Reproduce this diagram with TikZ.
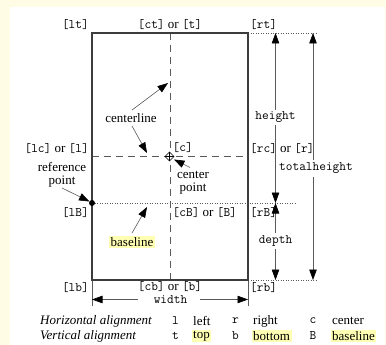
\documentclass[tikz,border=0pt]{standalone}
\usepackage{fontspec}
\setmainfont{Liberation Serif}
\usetikzlibrary{arrows.meta}
\definecolor{cream}{HTML}{FFFCE6}
\definecolor{hl}{HTML}{FFFFB3}
\definecolor{boxc}{HTML}{3C3C3C}
\definecolor{linec}{HTML}{5A5A5A}
\newcommand\mytt[1]{\texttt{#1}}
\tikzset{
  lbl/.style={inner sep=0pt, font=\fontsize{13}{14}\selectfont},
  mono/.style={inner sep=0pt, font=\fontsize{13}{14}\selectfont\ttfamily},
  hilite/.style={fill=hl, inner xsep=1.5pt, inner ysep=1pt},
  arr/.style={draw=linec, line width=0.6pt, -{Triangle[length=10.5pt,width=7.5pt,color=black]}},
  dashln/.style={draw=linec, line width=0.7pt, dash pattern=on 7pt off 5pt},
  dotln/.style={draw=linec, line width=0.6pt, dash pattern=on 1pt off 1.5pt},
  tick/.style={draw=linec, line width=0.6pt},
}
\begin{document}
\begin{tikzpicture}[x=1pt,y=-1pt]
\useasboundingbox (0,0) rectangle (386,345);
\fill[cream] (0,0) rectangle (386,345);
\fill[white] (10,7) rectangle (385,345);
% box and guide lines
\draw[dashln] (170,33) -- (170,280);
\draw[dashln] (92,156.5) -- (248,156.5);
\draw[dotln] (92,203) -- (296,203);
\draw[dotln] (248,33) -- (316,33);
\draw[dotln] (248,280) -- (316,280);
\draw[tick] (92,280) -- (92,306);
\draw[tick] (248,280) -- (248,306);
\draw[boxc, line width=1.3pt] (92,33) rectangle (248,280);
% reference point and center point
\fill[black] (92,203) circle (3pt);
\coordinate (cp) at (169.5,156.5);
\draw[black, line width=0.6pt, fill=white] ([shift={(0,-4.5)}]cp) -- ([shift={(4.5,0)}]cp) -- ([shift={(0,4.5)}]cp) -- ([shift={(-4.5,0)}]cp) -- cycle;
\draw[black, line width=0.6pt] ([shift={(-4.5,0)}]cp) -- ([shift={(4.5,0)}]cp) ([shift={(0,-4.5)}]cp) -- ([shift={(0,4.5)}]cp);
% position labels
\node[mono, anchor=east] (lt) at (89,25) {[lt]};
\node[lbl] (ct) at (170,25) {\mytt{[ct]} or \mytt{[t]}};
\node[mono, anchor=west] (rt) at (250,25) {[rt]};
\node[lbl, anchor=east] (lc) at (89,149) {\mytt{[lc]} or \mytt{[l]}};
\node[mono, anchor=west] (c) at (172.5,148) {[c]};
\node[lbl, anchor=west] (rc) at (250,149) {\mytt{[rc]} or \mytt{[r]}};
\node[mono, anchor=east] (lB) at (89,213) {[lB]};
\node[lbl, anchor=west] (cB) at (172.5,213) {\mytt{[cB]} or \mytt{[B]}};
\node[mono, anchor=west] (rB) at (250,213) {[rB]};
\node[mono, anchor=east] (lb) at (89,288) {[lb]};
\node[lbl] (cb) at (170,287) {\mytt{[cb]} or \mytt{[b]}};
\node[mono, anchor=west] (rb) at (250,288) {[rb]};
% annotations
\node[lbl] (centerline) at (131,118) {centerline};
\node[lbl, align=center] (refpt) at (62,175) {reference\\[-1pt]point};
\node[lbl, align=center] (cenpt) at (193,183) {center\\[-1pt]point};
\node[lbl, hilite] (baseline) at (132,242) {baseline};
\coordinate (cl1) at (132,110);
\coordinate (cl1t) at (168,83);
\coordinate (cl2) at (132,126);
\coordinate (cl2t) at (147,153);
\draw[arr] (cl1) -- (cl1t);
\draw[arr] (cl2) -- (cl2t);
\coordinate (cpt) at (190,167.5);
\draw[arr] (cpt) -- (174,159.5);
\coordinate (rpt) at (62,188);
\draw[arr] (rpt) -- (89.5,201.5);
\coordinate (blt) at (132,233);
\draw[arr] (blt) -- (147,207);
% dimension arrows
\node[mono] (height) at (275.5,117) {height};
\coordinate (htop) at (275.5,33);
\coordinate (hbot) at (275.5,203);
\draw[arr] ([yshift=1pt]height.north) -- (htop);
\draw[arr] ([yshift=-2pt]height.south) -- (hbot);
\node[mono] (depth) at (275.5,241) {depth};
\coordinate (dbot) at (275.5,280);
\draw[arr] ([yshift=2pt]depth.north) -- (hbot);
\draw[arr] ([yshift=-2pt]depth.south) -- (dbot);
\node[mono] (totalheight) at (316,168) {totalheight};
\coordinate (ttop) at (313,33);
\coordinate (tbot) at (313,280);
\draw[arr] ([yshift=2pt]totalheight.north -| ttop) -- (ttop);
\draw[arr] ([yshift=-3pt]totalheight.south -| tbot) -- (tbot);
\node[mono] (width) at (170.5,299.5) {width};
\coordinate (wl) at (92,299.5);
\coordinate (wr) at (248,299.5);
\draw[arr] ([xshift=-16pt]width.west |- wl) -- (wl);
\draw[arr] ([xshift=13pt]width.east |- wr) -- (wr);
% table
\node[lbl, anchor=west, font=\fontsize{13}{14}\selectfont\itshape] (ha) at (40,321) {Horizontal alignment};
\node[lbl, anchor=west, font=\fontsize{13}{14}\selectfont\itshape] (va) at (40,336) {Vertical alignment};
\node[mono] (kl) at (175.5,321) {l};
\node[mono] (kt) at (175.5,336) {t};
\node[lbl, anchor=west] (tleft) at (193,321) {left};
\node[lbl, hilite, anchor=west] (ttopw) at (191.5,336) {top};
\node[mono] (kr) at (235.5,321) {r};
\node[mono] (kb) at (235.5,336) {b};
\node[lbl, anchor=west] (tright) at (253,321) {right};
\node[lbl, hilite, anchor=west] (tbottom) at (251.5,336) {bottom};
\node[mono] (kc) at (313,321) {c};
\node[mono] (kB) at (313,336) {B};
\node[lbl, anchor=west] (tcenter) at (332,321) {center};
\node[lbl, hilite, anchor=west] (tbaseline) at (330.5,336) {baseline};
\end{tikzpicture}
\end{document}
